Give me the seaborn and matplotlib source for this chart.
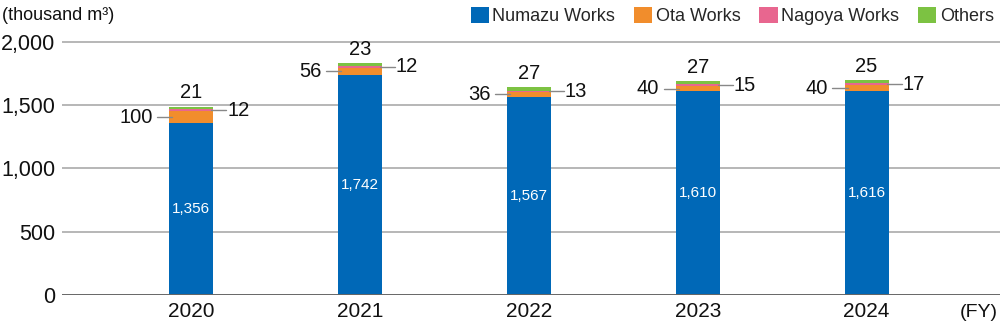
import matplotlib
matplotlib.use("Agg")
import matplotlib.pyplot as plt
import seaborn as sns
import numpy as np
import pandas as pd
from matplotlib.patches import Patch

years = ["2020", "2021", "2022", "2023", "2024"]
numazu = [1356, 1742, 1567, 1610, 1616]
ota = [100, 56, 36, 40, 40]
nagoya = [12, 12, 13, 15, 17]
others = [21, 23, 27, 27, 25]
series_names = ["Numazu Works", "Ota Works", "Nagoya Works", "Others"]
colors = ["#0068b7", "#f18d2c", "#e8668f", "#7cc242"]
yticks = [0, 500, 1000, 1500, 2000]

sns.set_theme(style="white")
plt.rcParams['font.family'] = ['Liberation Sans', 'DejaVu Sans']

fig = plt.figure(figsize=(10, 3.24), dpi=100)
ax = fig.add_axes([0.062, 0.0895, 0.938, 0.8005])

vals = np.array([numazu, ota, nagoya, others], dtype=float)
cum = np.cumsum(vals, axis=0)

width = 0.26
for i in range(3, -1, -1):
    df = pd.DataFrame({"year": years, "v": cum[i]})
    sns.barplot(data=df, x="year", y="v", color=colors[i], width=width,
                saturation=1, ax=ax, zorder=3, linewidth=0)

ax.set_ylim(0, 2050)
ax.set_xlim(-0.765, 4.79)
ax.set_yticks(yticks)
ax.set_yticklabels([f"{t:,}" for t in yticks], fontsize=15.5)
ax.set_xticks(range(len(years)))
ax.set_xticklabels(years, fontsize=15)
ax.set_xlabel("")
ax.set_ylabel("")
for s in ax.spines.values():
    s.set_visible(False)
ax.tick_params(axis="both", length=0, colors="#111111")
ax.tick_params(axis="x", pad=5)
ax.tick_params(axis="y", pad=5)
for t in yticks[1:]:
    ax.axhline(t, color="#aaaaaa", lw=1.2, zorder=1)
ax.axhline(0, color="#666666", lw=1.4, zorder=4)

tc = "#111111"
lc = "#888888"
hw = width / 2
for j in range(len(years)):
    ax.text(j, numazu[j] / 2, f"{numazu[j]:,}", ha="center", va="center",
            color="white", fontsize=11, zorder=5)
    # Ota label (left)
    y_ota = cum[0][j] + ota[j] / 2
    ax.plot([j - hw - 0.072, j - hw + 0.018], [y_ota, y_ota], color=lc, lw=1, zorder=5)
    ax.annotate(f"{ota[j]}", xy=(j - hw, y_ota), xytext=(-12, 0),
                textcoords="offset points", ha="right", va="center",
                fontsize=14.5, color=tc, zorder=5)
    # Nagoya label (right)
    y_ng = cum[1][j] + nagoya[j] / 2
    ax.plot([j + hw - 0.012, j + hw + 0.077], [y_ng, y_ng], color=lc, lw=1, zorder=6)
    ax.annotate(f"{nagoya[j]}", xy=(j + hw, y_ng), xytext=(10, 0),
                textcoords="offset points", ha="left", va="center",
                fontsize=14.5, color=tc, zorder=5)
    # Others label (top)
    ax.annotate(f"{others[j]}", xy=(j, cum[3][j]), xytext=(0, 3),
                textcoords="offset points", ha="center", va="bottom",
                fontsize=14.5, color=tc, zorder=5)

fig.text(0.002, 0.978, "(thousand m³)", ha="left", va="top", fontsize=13, color=tc)
fig.text(0.998, 0.037, "(FY)", ha="right", va="center", fontsize=14, color=tc)

handles = [Patch(facecolor=c, edgecolor="none") for c in colors]
leg = fig.legend(handles, series_names, loc="upper right", bbox_to_anchor=(1.01, 1.03),
                 ncol=4, frameon=False, fontsize=13, handlelength=1.0, handleheight=1.0,
                 handletextpad=0.2, columnspacing=1.05)

fig.savefig("out.png", dpi=100)
